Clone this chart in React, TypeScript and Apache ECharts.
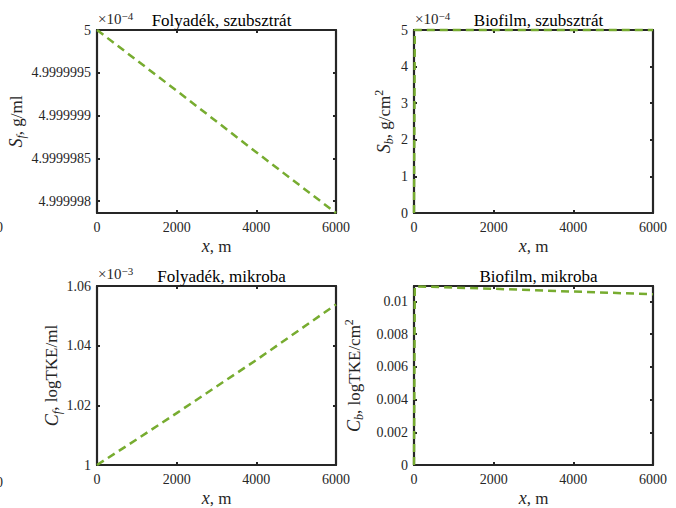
import React, { useEffect, useRef } from "react";
import * as echarts from "echarts";

// ---- data ----
const xTicks = [0, 2000, 4000, 6000];
const xTickLabels = ["0", "2000", "4000", "6000"];

// Folyadék, szubsztrát (×1e-4 g/ml)
const sfX = [0, 2000, 4000, 6000];
const sfY = [5, 4.99999929, 4.99999857, 4.99999786];
const sfTicks = [4.999998, 4.9999985, 4.999999, 4.9999995, 5];
const sfTickLabels = ["4.999998", "4.9999985", "4.999999", "4.9999995", "5"];

// Biofilm, szubsztrát (×1e-4 g/cm2)
const sbX = [0, 20, 6000];
const sbY = [0, 5, 5];
const sbTicks = [0, 1, 2, 3, 4, 5];
const sbTickLabels = ["0", "1", "2", "3", "4", "5"];

// Folyadék, mikroba (×1e-3 logTKE/ml)
const cfX = [0, 1000, 2000, 4000, 6000];
const cfY = [1.0, 1.0086, 1.0174, 1.0352, 1.0538];
const cfTicks = [1, 1.02, 1.04, 1.06];
const cfTickLabels = ["1", "1.02", "1.04", "1.06"];

// Biofilm, mikroba (logTKE/cm2)
const cbX = [0, 20, 2000, 4000, 6000];
const cbY = [0, 0.01092, 0.01077, 0.0106, 0.01044];
const cbTicks = [0, 0.002, 0.004, 0.006, 0.008, 0.01];
const cbTickLabels = ["0", "0.002", "0.004", "0.006", "0.008", "0.01"];

const titles = ["Folyadék, szubsztrát", "Biofilm, szubsztrát", "Folyadék, mikroba", "Biofilm, mikroba"];

const FONT = "'Liberation Serif', 'DejaVu Serif', serif";
const INK = "#262626";
const GREEN = "#77AC30";

const pick = (ticks: number[], labels: string[]) => (v: number) => {
  let bi = 0;
  let bd = Infinity;
  ticks.forEach((t, i) => {
    const d = Math.abs(t - v);
    if (d < bd) { bd = d; bi = i; }
  });
  return labels[bi];
};

export default function App() {
  const ref = useRef<HTMLDivElement>(null);
  useEffect(() => {
    if (!ref.current) return;
    const chart = echarts.init(ref.current, undefined, { renderer: "svg" });

    const grids = [
      { left: 97, top: 30, width: 239, height: 183 },
      { left: 414, top: 30, width: 239, height: 183 },
      { left: 97, top: 286, width: 239, height: 182 },
      { left: 414, top: 286, width: 239, height: 182 },
    ];
    const panels = [
      { x: sfX, y: sfY, ticks: sfTicks, labels: sfTickLabels, min: 4.99999786, max: 5,
        name: "{i|S}{s|f}{n|, g/ml}", gap: 70, clip: true },
      { x: sbX, y: sbY, ticks: sbTicks, labels: sbTickLabels, min: 0, max: 5,
        name: "{i|S}{s|b}{n|, g/cm}{p|2}", gap: 19, clip: false },
      { x: cfX, y: cfY, ticks: cfTicks, labels: cfTickLabels, min: 1, max: 1.06,
        name: "{i|C}{s|f}{n|, logTKE/ml}", gap: 34, clip: true },
      { x: cbX, y: cbY, ticks: cbTicks, labels: cbTickLabels, min: 0, max: 0.01094,
        name: "{i|C}{s|b}{n|, logTKE/cm}{p|2}", gap: 49, clip: false },
    ];

    const line = { onZero: false, lineStyle: { color: INK, width: 2.2 } };
    const tick = { inside: true, length: 3, lineStyle: { color: INK, width: 2 } };
    const lbl = { fontFamily: FONT, fontSize: 14, color: INK };
    const rich = {
      i: { fontFamily: FONT, fontSize: 18, fontStyle: "italic", color: INK, lineHeight: 22 },
      s: { fontFamily: FONT, fontSize: 12, fontStyle: "italic", color: INK, lineHeight: 13, verticalAlign: "bottom" },
      n: { fontFamily: FONT, fontSize: 17, color: INK, lineHeight: 22 },
      p: { fontFamily: FONT, fontSize: 12, color: INK, lineHeight: 13, verticalAlign: "top" },
    };

    const xAxis: any[] = [];
    const yAxis: any[] = [];
    const series: any[] = [];
    panels.forEach((p, k) => {
      xAxis.push({
        type: "value", gridIndex: k, position: "bottom", min: 0, max: 6000,
        axisLine: line, splitLine: { show: false },
        axisTick: { ...tick, customValues: xTicks },
        axisLabel: { ...lbl, margin: 7, customValues: xTicks, formatter: pick(xTicks, xTickLabels) },
        name: "{i|x}{n|, m}", nameLocation: "middle", nameGap: 22,
        nameTextStyle: { rich },
      });
      xAxis.push({
        type: "value", gridIndex: k, position: "top", min: 0, max: 6000,
        axisLine: line, splitLine: { show: false },
        axisTick: { ...tick, customValues: xTicks },
        axisLabel: { show: false },
      });
      yAxis.push({
        type: "value", gridIndex: k, position: "left", min: p.min, max: p.max,
        axisLine: line, splitLine: { show: false },
        axisTick: { ...tick, customValues: p.ticks },
        axisLabel: { ...lbl, margin: 6, customValues: p.ticks, formatter: pick(p.ticks, p.labels) },
        name: p.name, nameLocation: "middle", nameGap: p.gap, nameRotate: 90,
        nameTextStyle: { rich },
      });
      yAxis.push({
        type: "value", gridIndex: k, position: "right", min: p.min, max: p.max,
        axisLine: line, splitLine: { show: false },
        axisTick: { ...tick, customValues: p.ticks },
        axisLabel: { show: false },
      });
      series.push({
        type: "line", xAxisIndex: 2 * k, yAxisIndex: 2 * k,
        data: p.x.map((xv, i) => [xv, p.y[i]]),
        showSymbol: false, clip: p.clip, z: 5,
        lineStyle: { color: GREEN, width: 2.5, type: [8, 5] },
      });
    });

    const title = titles.map((t, k) => ({
      text: t,
      left: grids[k].left + grids[k].width / 2,
      top: k < 2 ? 7 : 263,
      textAlign: "center",
      textStyle: { fontFamily: FONT, fontSize: 17, fontWeight: "normal", color: "#000" },
    }));

    const mult = (x: number, y: number, e: string) => ({
      type: "text", x, y,
      style: {
        text: `{a|×10}{b|${e}}`,
        textVerticalAlign: "middle",
        rich: {
          a: { fontFamily: FONT, fontSize: 15, fill: INK, lineHeight: 18 },
          b: { fontFamily: FONT, fontSize: 11, fill: INK, lineHeight: 11, verticalAlign: "top" },
        },
      },
    });

    chart.setOption({
      animation: false,
      backgroundColor: "#fff",
      title,
      grid: grids.map((g) => ({ ...g, containLabel: false })),
      xAxis, yAxis, series,
      graphic: [
        mult(98, 19, "−4"),
        mult(415, 19, "−4"),
        mult(98, 274, "−3"),
        { type: "text", x: 3, y: 227, style: { text: "0", font: `14px ${FONT}`, fill: INK, textAlign: "right", textVerticalAlign: "middle" } },
        { type: "text", x: 3, y: 482, style: { text: "0", font: `14px ${FONT}`, fill: INK, textAlign: "right", textVerticalAlign: "middle" } },
      ],
    });
    return () => chart.dispose();
  }, []);
  return <div ref={ref} style={{ position: "fixed", left: 0, top: 0, width: 676, height: 508 }} />;
}
